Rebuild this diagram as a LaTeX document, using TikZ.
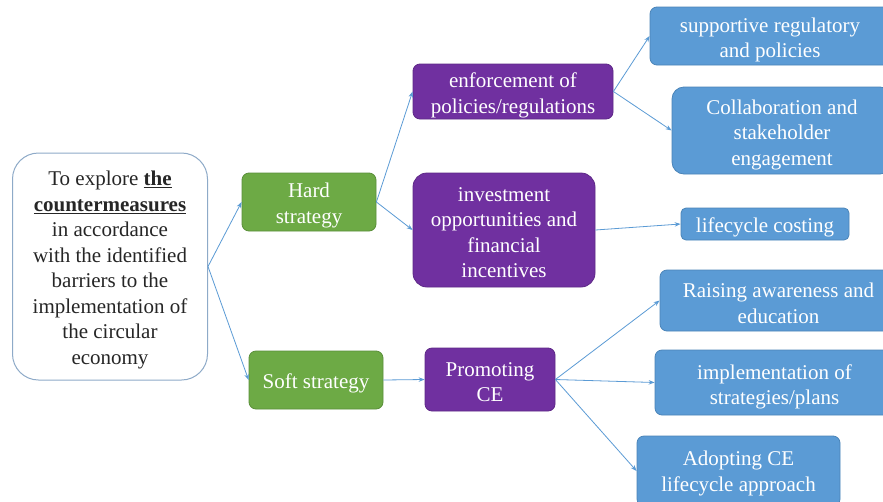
\documentclass[tikz,border=0pt]{standalone}
\usepackage{fontspec}
\setmainfont{Liberation Serif}
\usetikzlibrary{arrows.meta}
\definecolor{cgreen}{HTML}{6DAA45}
\definecolor{cgreenb}{HTML}{5A8F3A}
\definecolor{cpurple}{HTML}{7030A0}
\definecolor{cpurpleb}{HTML}{5E2887}
\definecolor{cblue}{HTML}{5B9BD5}
\definecolor{cblueb}{HTML}{4A84B8}
\definecolor{cmainb}{HTML}{8EAAC8}
\definecolor{carrow}{HTML}{5B9BD5}
\begin{document}
\begin{tikzpicture}[x=1pt,y=-1pt,
  box/.style={rounded corners=7pt, inner sep=0pt, line width=0.8pt},
  gbox/.style={box, fill=cgreen, draw=cgreenb},
  pbox/.style={box, fill=cpurple, draw=cpurpleb},
  bbox/.style={box, fill=cblue, draw=cblueb},
  mainbox/.style={box, rounded corners=26pt, fill=white, draw=cmainb, line width=1pt},
  txt/.style={align=center, text=white, inner sep=0pt, font=\fontsize{21}{25.5}\selectfont},
  mtxt/.style={txt, text=black!85},
  conn/.style={draw=carrow, line width=0.8pt, -{Stealth[length=6pt,width=4.5pt]}}]
\fill[white] (0,0) rectangle (883,501);
\useasboundingbox (0,0) rectangle (883,501);
\clip (0,0) rectangle (883,501);

% boxes
\node[mainbox, minimum width=195pt, minimum height=227pt] (main) at (110,266.5) {};
\node[gbox, minimum width=134pt, minimum height=58pt] (hard) at (309,202) {};
\node[gbox, minimum width=134pt, minimum height=58pt] (soft) at (316,380) {};
\node[pbox, minimum width=200pt, minimum height=55pt] (enf) at (513,91.5) {};
\node[pbox, minimum width=182pt, minimum height=114pt, rounded corners=14pt] (inv) at (504,230) {};
\node[pbox, minimum width=130pt, minimum height=63pt] (prom) at (490,379.5) {};
\node[bbox, minimum width=240pt, minimum height=58pt] (sup) at (770,36) {};
\node[bbox, minimum width=220pt, minimum height=87pt, rounded corners=12pt] (coll) at (782,130.5) {};
\node[bbox, minimum width=168pt, minimum height=32pt, rounded corners=5pt] (life) at (765,224) {};
\node[bbox, minimum width=237pt, minimum height=61pt] (rais) at (778.5,300.5) {};
\node[bbox, minimum width=239pt, minimum height=65pt] (impl) at (774.5,382.5) {};
\node[bbox, minimum width=203pt, minimum height=70pt] (adopt) at (738.5,471) {};

% texts
\node[mtxt] (main-t) at (110,270)
  {To explore \underline{\textbf{the}}\\ \underline{\textbf{countermeasures}}\\ in accordance\\ with the identified\\ barriers to the\\ implementation of\\ the circular\\ economy};
\node[txt] (hard-t) at (309,205.5) {Hard\\strategy};
\node[txt] (soft-t) at (316,383) {Soft strategy};
\node[txt] (enf-t) at (513,95.5) {enforcement of\\policies/regulations};
\node[txt] (inv-t) at (504,232.5) {investment\\opportunities and\\financial\\incentives};
\node[txt] (prom-t) at (490,382) {Promoting\\CE};
\node[txt] (sup-t) at (770,40) {supportive regulatory\\and policies};
\node[txt] (coll-t) at (782,134.5) {Collaboration and\\stakeholder\\engagement};
\node[txt] (life-t) at (765,227) {lifecycle costing};
\node[txt] (rais-t) at (778.5,303.5) {Raising awareness and\\education};
\node[txt] (impl-t) at (774.5,387) {implementation of\\strategies/plans};
\node[txt] (adopt-t) at (738.5,473.5) {Adopting CE\\lifecycle approach};

% connectors
\draw[conn] (main.east) -- (hard.west);
\draw[conn] (main.east) -- (soft.west);
\draw[conn] (hard.east) -- (enf.west);
\draw[conn] (hard.east) -- (inv.west);
\draw[conn] (soft.east) -- (prom.west);
\draw[conn] (enf.east) -- (sup.west);
\draw[conn] (enf.east) -- (coll.west);
\draw[conn] (inv.east) -- (life.west);
\draw[conn] (prom.east) -- (rais.west);
\draw[conn] (prom.east) -- (impl.west);
\draw[conn] (prom.east) -- (adopt.west);
\end{tikzpicture}
\end{document}
